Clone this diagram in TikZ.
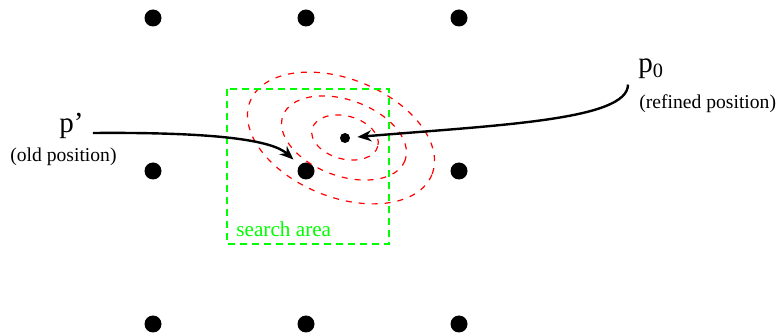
\documentclass[tikz,border=0pt]{standalone}
\usepackage{fontspec}
\setmainfont{Liberation Serif}
\usetikzlibrary{arrows.meta,positioning,calc}
\definecolor{areaGreen}{HTML}{00FF00}
\definecolor{levelRed}{HTML}{FF0000}
\definecolor{inkBlack}{HTML}{000000}
\tikzset{
  posArrow/.style={-{Stealth[length=7pt,width=5.5pt,inset=2.2pt]}, line width=1.2pt, draw=inkBlack},
  gridDot/.style={
    circle,
    fill=inkBlack,
    inner sep=0pt,
    minimum size=8.5pt
  },
  refDotStyle/.style={
    circle,
    fill=inkBlack,
    inner sep=0pt,
    minimum size=5pt
  },
  searchBox/.style={
    draw=areaGreen,
    line width=0.6pt,
    dash pattern=on 3.5pt off 2.5pt
  },
  levelLine/.style={
    draw=levelRed,
    line width=0.6pt,
    dash pattern=on 3pt off 3.5pt
  },
  posName/.style={
    font=\fontsize{14.5}{16}\selectfont,
    inner sep=0pt,
    anchor=base west
  },
  posNote/.style={
    font=\fontsize{9.8}{12}\selectfont,
    inner sep=0pt,
    anchor=base west
  }
}

\begin{document}
\begin{tikzpicture}[x=0.5pt, y=-0.5pt]
      \useasboundingbox (0,0) rectangle (777,336);

      % grid of pixel positions
      \node[gridDot] (g11) at (153,18) {};
      \node[gridDot] (g12) at (306,18) {};
      \node[gridDot] (g13) at (459,18) {};
      \node[gridDot] (g21) at (153,171) {};
      \node[gridDot] (g22) at (306,171) {};
      \node[gridDot] (g23) at (459,171) {};
      \node[gridDot] (g31) at (153,324) {};
      \node[gridDot] (g32) at (306,324) {};
      \node[gridDot] (g33) at (459,324) {};

      % refined position and its level lines
      \node[refDotStyle] (refDot) at (345,138) {};
      \coordinate (lvlC) at (341,138);
      \draw[levelLine, rotate around={-22:(lvlC)}] (lvlC) ellipse [x radius=98, y radius=59];
      \draw[levelLine, rotate around={-20:(344,138)}] (344,138) ellipse [x radius=65, y radius=38];
      \draw[levelLine, rotate around={-15:(345,137.5)}] (345,137.5) ellipse [x radius=34, y radius=21.5];

      % search area
      \draw[searchBox] (227,89) rectangle (389,244);
      \node[posNote, font=\fontsize{10.6}{12}\selectfont, text=areaGreen] (areaLbl) at (236,237) {search area};

      % labels
      \node[posName] (pOld) at (59,133) {p'};
      \node[posNote] (pOldNote) at (10,162) {(old position)};
      \node[posName] (pNew) at (638,73) {p\textsubscript{0}};
      \node[posNote] (pNewNote) at (639,109) {(refined position)};

      \draw[posArrow, shorten >=4pt] ([xshift=4.5pt]pOld.base east) .. controls (215,132) and (272,140) .. (g22);
      \draw[posArrow, shorten >=3.5pt] ([xshift=-5pt,yshift=-2.5pt]pNew.south west) .. controls (628,120) and (500,125) .. (refDot);
    \end{tikzpicture}
\end{document}
